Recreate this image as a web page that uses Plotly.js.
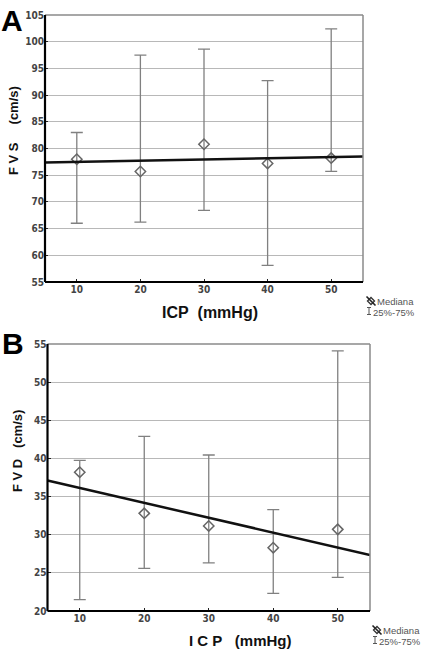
<!DOCTYPE html>
<html>
<head>
<meta charset="utf-8">
<script src="https://cdn.plot.ly/plotly-3.0.1.min.js"></script>
<style>
  html, body { margin: 0; padding: 0; background: #fff; }
  #chart { width: 421px; height: 649px; }
</style>
</head>
<body>
<div id="chart"></div>
<script>
// Intracranial pressure groups (mmHg)
const icp = [10, 20, 30, 40, 50];

// Panel A: systolic flow velocity, FVS (cm/s)
const fvsMedian = [78.0, 75.7, 80.8, 77.2, 78.2];
const fvsQ1 = [66.0, 66.2, 68.4, 58.1, 75.7];
const fvsQ3 = [83.0, 97.5, 98.6, 92.7, 102.4];
const fvsFitX = [5, 55];
const fvsFitY = [77.4, 78.5];

// Panel B: diastolic flow velocity, FVD (cm/s)
const fvdMedian = [38.2, 32.8, 31.15, 28.3, 30.7];
const fvdQ1 = [21.5, 25.6, 26.3, 22.3, 24.4];
const fvdQ3 = [39.75, 42.9, 40.45, 33.3, 54.1];
const fvdFitX = [5, 55];
const fvdFitY = [37.1, 27.35];

const xTicks = [10, 20, 30, 40, 50];
const fvsTicks = [55, 60, 65, 70, 75, 80, 85, 90, 95, 100, 105];
const fvdTicks = [20, 25, 30, 35, 40, 45, 50, 55];

const W = 421, H = 649;
const px = v => v / W;
const py = v => 1 - v / H;

const tickFont = { family: 'Liberation Sans Narrow, DejaVu Sans Condensed, Arial, sans-serif', size: 10, color: '#444', weight: 'bold' };
const barColor = '#808080';

function medianTrace(x, med, q1, q3, xa, ya) {
  return {
    type: 'scatter', mode: 'markers', x: x, y: med, xaxis: xa, yaxis: ya,
    marker: { symbol: 'diamond-open', size: 8, color: '#666', line: { width: 1.5, color: '#666' } },
    error_y: {
      type: 'data', symmetric: false,
      array: q3.map((v, i) => v - med[i]),
      arrayminus: med.map((v, i) => v - q1[i]),
      color: barColor, thickness: 1.3, width: 6
    },
    showlegend: false, hoverinfo: 'skip'
  };
}

function fitTrace(x, y, xa, ya) {
  return {
    type: 'scatter', mode: 'lines', x: x, y: y, xaxis: xa, yaxis: ya,
    line: { color: '#111', width: 2.5 }, showlegend: false, hoverinfo: 'skip'
  };
}

const data = [
  medianTrace(icp, fvsMedian, fvsQ1, fvsQ3, 'x', 'y'),
  fitTrace(fvsFitX, fvsFitY, 'x', 'y'),
  medianTrace(icp, fvdMedian, fvdQ1, fvdQ3, 'x2', 'y2'),
  fitTrace(fvdFitX, fvdFitY, 'x2', 'y2')
];

function xAxis(domain, anchor) {
  return {
    domain: domain, anchor: anchor, range: [5, 55], tickvals: xTicks,
    ticks: 'inside', ticklen: 3, tickcolor: '#222', tickfont: tickFont,
    showgrid: false, zeroline: false, showline: false, fixedrange: true
  };
}
function yAxis(domain, anchor, range, ticks) {
  return {
    domain: domain, anchor: anchor, range: range, tickvals: ticks,
    ticks: 'inside', ticklen: 3, tickcolor: '#222', tickfont: tickFont,
    showgrid: true, gridcolor: '#b8b8b8', gridwidth: 1,
    zeroline: false, showline: false, fixedrange: true
  };
}

// Plot boxes (pixel edges)
const A = { l: 45, r: 363, t: 15, b: 282 };
const B = { l: 47.5, r: 370, t: 344, b: 611 };

function frameShapes(box) {
  return [
    // thin grey top and right edges
    { type: 'line', xref: 'paper', yref: 'paper', x0: px(box.l), x1: px(box.r), y0: py(box.t), y1: py(box.t), line: { color: '#8a8a8a', width: 1.5 } },
    { type: 'line', xref: 'paper', yref: 'paper', x0: px(box.r), x1: px(box.r), y0: py(box.t), y1: py(box.b), line: { color: '#8a8a8a', width: 1.5 } },
    // heavy black left and bottom axes
    { type: 'line', xref: 'paper', yref: 'paper', x0: px(box.l), x1: px(box.l), y0: py(box.t), y1: py(box.b), line: { color: '#000', width: 2.2 } },
    { type: 'line', xref: 'paper', yref: 'paper', x0: px(box.l), x1: px(box.r), y0: py(box.b), y1: py(box.b), line: { color: '#000', width: 2.2 } }
  ];
}

// Legend glyphs: a crossed diamond for the median and an I-beam for the 25%-75% range
function legendGlyphs(x, y) {
  const d = 3.5;
  const cx = x + 4, cy = y;
  const iy = y + 10;
  return [
    { type: 'path', xref: 'paper', yref: 'paper',
      path: `M ${px(cx - d)} ${py(cy)} L ${px(cx)} ${py(cy - d)} L ${px(cx + d)} ${py(cy)} L ${px(cx)} ${py(cy + d)} Z`,
      line: { color: '#333', width: 1.3 }, fillcolor: 'rgba(0,0,0,0)' },
    { type: 'line', xref: 'paper', yref: 'paper', x0: px(cx - 4.5), x1: px(cx + 4.5), y0: py(cy - 4.5), y1: py(cy + 4.5), line: { color: '#222', width: 1.6 } },
    { type: 'line', xref: 'paper', yref: 'paper', x0: px(x + 2), x1: px(x + 2), y0: py(iy - 3.5), y1: py(iy + 3.5), line: { color: '#555', width: 1 } },
    { type: 'line', xref: 'paper', yref: 'paper', x0: px(x), x1: px(x + 4), y0: py(iy - 3.5), y1: py(iy - 3.5), line: { color: '#555', width: 1 } },
    { type: 'line', xref: 'paper', yref: 'paper', x0: px(x), x1: px(x + 4), y0: py(iy + 3.5), y1: py(iy + 3.5), line: { color: '#555', width: 1 } }
  ];
}

function note(text, x, y, opts) {
  return Object.assign({
    text: text, xref: 'paper', yref: 'paper', x: px(x), y: py(y),
    showarrow: false, xanchor: 'center', yanchor: 'middle',
    font: { family: 'Liberation Sans, Arial, sans-serif', size: 12, color: '#111' }
  }, opts || {});
}

const legendFont = { family: 'Liberation Sans, Arial, sans-serif', size: 9.5, color: '#555' };
const titleFont = { family: 'Liberation Sans, Arial, sans-serif', size: 16, color: '#111', weight: 'bold' };
const yTitleFont = { family: 'Liberation Sans, Arial, sans-serif', size: 13, color: '#111', weight: 'bold' };

// Legend text annotations get a fixed box height so the two lines stay apart
function legendNote(text, x, y) {
  return note(text, x, y, { xanchor: 'left', font: legendFont, height: 10, borderpad: 0 });
}

const layout = {
  width: W, height: H,
  margin: { l: 0, r: 0, t: 0, b: 0 },
  paper_bgcolor: '#fff', plot_bgcolor: '#fff',
  showlegend: false,
  xaxis: xAxis([px(A.l), px(A.r)], 'y'),
  yaxis: yAxis([py(A.b), py(A.t)], 'x', [55, 105], fvsTicks),
  xaxis2: xAxis([px(B.l), px(B.r)], 'y2'),
  yaxis2: yAxis([py(B.b), py(B.t)], 'x2', [20, 55], fvdTicks),
  shapes: [].concat(
    frameShapes(A), frameShapes(B),
    legendGlyphs(367, 301), legendGlyphs(373, 630)
  ),
  annotations: [
    note('A', 12, 21, { font: { family: 'Liberation Sans, Arial, sans-serif', size: 30, color: '#000', weight: 'bold' } }),
    note('B', 13, 343, { font: { family: 'Liberation Sans, Arial, sans-serif', size: 30, color: '#000', weight: 'bold' } }),
    note('F V S&nbsp;&nbsp;&nbsp;&nbsp;&nbsp;(cm/s)', 14, 131, { textangle: -90, font: yTitleFont }),
    note('F V D&nbsp;&nbsp;&nbsp;(cm/s)', 17, 451, { textangle: -90, font: yTitleFont }),
    note('ICP&nbsp;&nbsp;(mmHg)', 210, 312, { font: titleFont }),
    note('I C P&nbsp;&nbsp;&nbsp;(mmHg)', 240, 640, { font: Object.assign({}, titleFont, { size: 15 }) }),
    legendNote('Mediana', 376, 301),
    legendNote('25%-75%', 372, 312),
    legendNote('Mediana', 382, 630),
    legendNote('25%-75%', 378, 641)
  ]
};

Plotly.newPlot('chart', data, layout, { displayModeBar: false, staticPlot: true });
</script>
</body>
</html>
